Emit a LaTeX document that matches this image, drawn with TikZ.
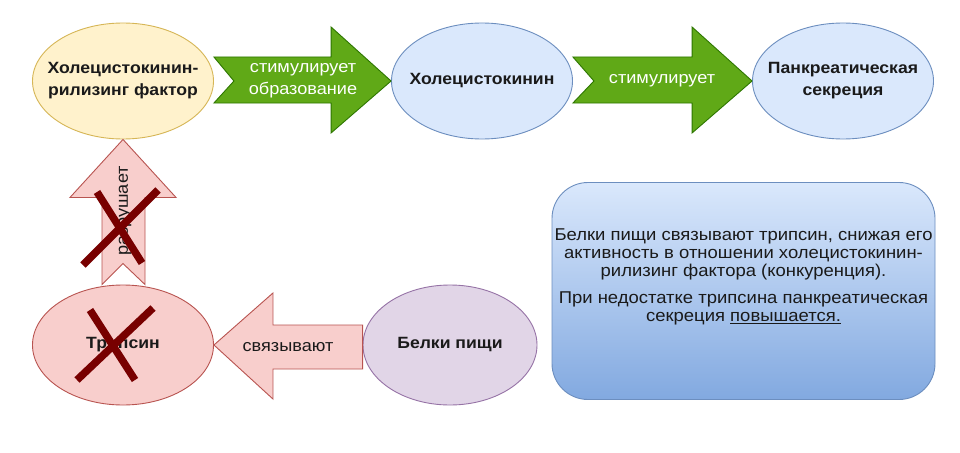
\documentclass[tikz,border=0pt]{standalone}
\usepackage{fontspec}
\setmainfont[FakeStretch=1.08]{Liberation Sans}
\usetikzlibrary{shapes.geometric,calc}
\definecolor{yelfill}{HTML}{FFF2CC}
\definecolor{yeldraw}{HTML}{D6B656}
\definecolor{bluefill}{HTML}{DAE8FC}
\definecolor{bluedraw}{HTML}{6C8EBF}
\definecolor{grnfill}{HTML}{60A917}
\definecolor{grndraw}{HTML}{2D7600}
\definecolor{redfill}{HTML}{F8CECC}
\definecolor{reddraw}{HTML}{B85450}
\definecolor{purfill}{HTML}{E1D5E7}
\definecolor{purdraw}{HTML}{9673A6}
\definecolor{boxbot}{HTML}{82A9E0}
\definecolor{crossc}{HTML}{780000}
\definecolor{txt}{HTML}{1A1A1A}
\begin{document}
\begin{tikzpicture}[x=1pt,y=-1pt,
  ell/.style={ellipse,draw,line width=0.9pt,inner sep=0pt,minimum width=181pt,minimum height=116pt},
  etext/.style={align=center,inner sep=0pt,font=\fontsize{16.3}{22}\selectfont\bfseries,text=txt},
  yel/.style={ell,fill=yelfill,draw=yeldraw},
  blu/.style={ell,fill=bluefill,draw=bluedraw},
  redell/.style={ell,fill=redfill,draw=reddraw,minimum height=120pt},
  pur/.style={ell,fill=purfill,draw=purdraw,minimum width=174pt,minimum height=120pt},
  garrow/.style={fill=grnfill,draw=grndraw,line width=0.9pt,line join=miter},
  rarrow/.style={fill=redfill,draw=reddraw,line width=0.9pt,line join=miter},
  glabel/.style={align=center,text=white,font=\fontsize{16.8}{22}\selectfont,inner sep=0pt},
  rlabel/.style={align=center,text=txt,font=\fontsize{16.8}{19}\selectfont,inner sep=0pt},
  crossline/.style={draw=crossc,line width=7.5pt},
  infobox/.style={rectangle,rounded corners=36pt,draw=bluedraw,line width=0.9pt,
    top color=bluefill,bottom color=boxbot,minimum width=383pt,minimum height=217pt},
  infotext/.style={align=center,text=txt,font=\fontsize{17.1}{17.6}\selectfont,inner sep=0pt}
]
\useasboundingbox (0,0) rectangle (960,452);
\fill[white] (0,0) rectangle (960,452);

% ellipses
\node[yel] (e1) at (123,81) {};
\node[etext] (e1t) at (e1.center) {Холецистокинин-\\рилизинг фактор};
\node[blu] (e2) at (482,81) {};
\node[etext] (e2t) at (e2.center) {Холецистокинин};
\node[blu] (e3) at (843,81) {};
\node[etext] (e3t) at (e3.center) {Панкреатическая\\секреция};
\node[redell] (tr) at (123,345) {};
\node[pur] (bp) at (450,345) {};
\node[etext] (bpt) at (bp.center) {Белки пищи};

% green arrow 1
\draw[garrow] ($(e1.east)+(0,-24)$) -- ($(e2.west)+(-60,-24)$) -- ($(e2.west)+(-60,-54)$)
  -- (e2.west) -- ($(e2.west)+(-60,52)$) -- ($(e2.west)+(-60,22)$) -- ($(e1.east)+(0,22)$)
  -- ($(e1.east)+(20,0)$) -- cycle;
\node[glabel] (l1) at (303,81) {стимулирует\\образование};

% green arrow 2
\draw[garrow] ($(e2.east)+(0,-24)$) -- ($(e3.west)+(-60,-24)$) -- ($(e3.west)+(-60,-54)$)
  -- (e3.west) -- ($(e3.west)+(-60,52)$) -- ($(e3.west)+(-60,22)$) -- ($(e2.east)+(0,22)$)
  -- ($(e2.east)+(21,0)$) -- cycle;
\node[glabel] (l2) at (662,81) {стимулирует};

% up arrow
\draw[rarrow] (e1.south) -- ($(e1.south)+(53,58)$) -- ($(e1.south)+(22,58)$)
  -- ($(tr.north)+(22,0)$) -- ($(tr.north)+(0,-21)$) -- ($(tr.north)+(-21,0)$)
  -- ($(e1.south)+(-21,58)$) -- ($(e1.south)+(-53,58)$) -- cycle;
\node[rlabel,rotate=90] (l3) at (125,211) {разрушает};

% left arrow
\draw[rarrow] (tr.east) -- ($(tr.east)+(59,-52)$) -- ($(tr.east)+(59,-20)$)
  -- ($(bp.west)+(0,-20)$) -- ($(bp.west)+(0,24)$) -- ($(tr.east)+(59,24)$)
  -- ($(tr.east)+(59,54)$) -- cycle;
\node[rlabel] (l4) at (288,347) {связывают};

% trypsin label and crosses
\node[etext] (trt) at (tr.center) {Трипсин};
\draw[crossline] (83,265) -- (158,190);
\draw[crossline] (97,192) -- (142,263);
\draw[crossline] (77,380) -- (153,308);
\draw[crossline] (90,310) -- (135,380);

% info box
\node[infobox] (box) at (743.5,291) {};
\node[infotext] (bt) at (743.5,277) {Белки пищи связывают трипсин, снижая его\\
активность в отношении холецистокинин-\\
рилизинг фактора (конкуренция).\\[10pt]
При недостатке трипсина панкреатическая\\
секреция \underline{повышается.}};
\end{tikzpicture}
\end{document}
